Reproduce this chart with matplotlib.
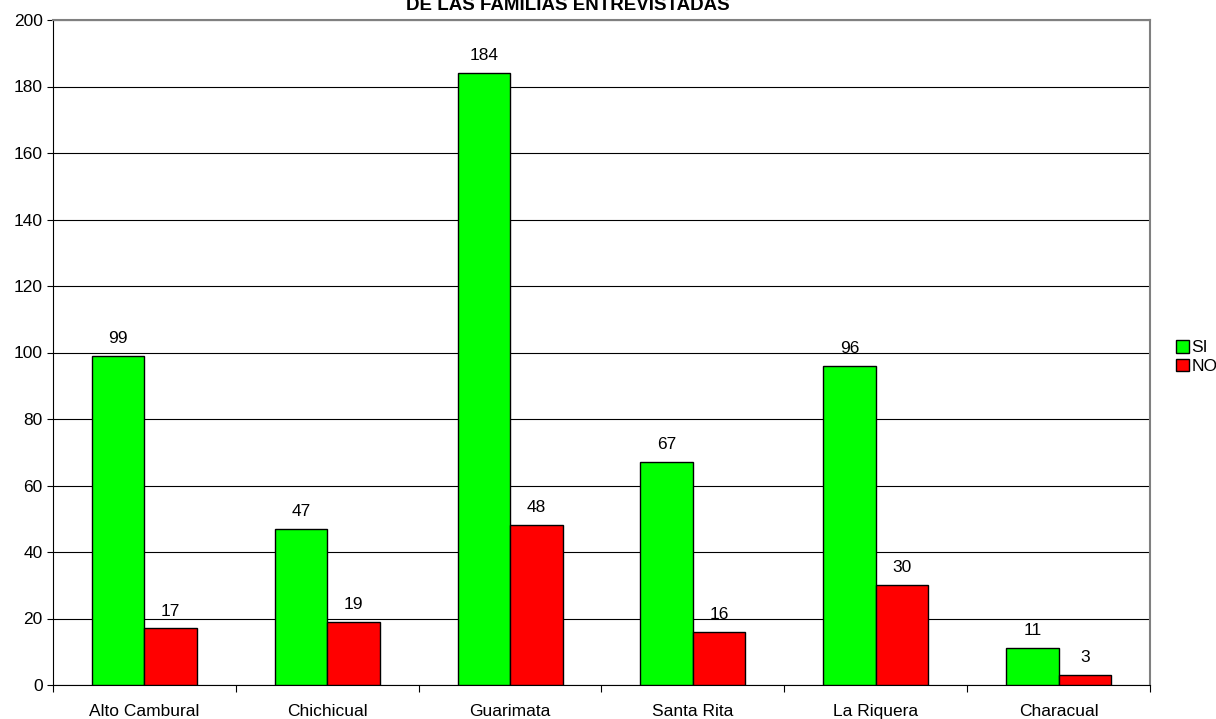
import matplotlib.pyplot as plt
import numpy as np
from matplotlib.patches import Patch

plt.rcParams['font.family'] = ['Liberation Sans', 'DejaVu Sans']

categories = ['Alto Cambural', 'Chichicual', 'Guarimata', 'Santa Rita', 'La Riquera', 'Characual']
si_vals = [99, 47, 184, 67, 96, 11]
no_vals = [17, 19, 48, 16, 30, 3]

fig = plt.figure(figsize=(12.16, 7.19), dpi=100)
W, H = 1216, 719
ax = fig.add_axes([53 / W, 1 - 685 / H, (1150 - 53) / W, (685 - 20) / H])

x = np.arange(len(categories))
bw = 0.287
b1 = ax.bar(x - bw / 2, si_vals, bw, color='#00FF00', edgecolor='black', linewidth=1, zorder=3)
b2 = ax.bar(x + bw / 2, no_vals, bw, color='#FF0000', edgecolor='black', linewidth=1, zorder=3)

for bars, vals in ((b1, si_vals), (b2, no_vals)):
    for b, v in zip(bars, vals):
        ax.text(b.get_x() + b.get_width() / 2, v + 3.0, str(v), ha='center', va='bottom', fontsize=12.5)

ax.set_xlim(-0.5, len(categories) - 0.5)
ax.set_ylim(0, 200)
ax.set_yticks(range(0, 201, 20))
ax.tick_params(axis='y', labelsize=12.5, length=4, direction='out')
ax.set_xticks(np.arange(-0.5, len(categories), 1))
ax.set_xticklabels([])
ax.set_xticks(x, minor=True)
ax.set_xticklabels(categories, minor=True, fontsize=12.5)
ax.tick_params(axis='x', which='major', length=5)
ax.tick_params(axis='x', which='minor', length=0, pad=14)
ax.yaxis.grid(True, color='black', linewidth=0.8, zorder=0)
ax.set_axisbelow(True)

for s in ('top', 'right'):
    ax.spines[s].set_color('#808080')
    ax.spines[s].set_linewidth(1.5)

# titulo cortado arriba, como en la imagen original
fig.text(568 / W, 1 - 10 / H, 'DE LAS FAMILIAS ENTREVISTADAS', ha='center', va='baseline',
         fontsize=13.5, fontweight='bold')

handles = [Patch(facecolor='#00FF00', edgecolor='black', label='SI'),
           Patch(facecolor='#FF0000', edgecolor='black', label='NO')]
fig.legend(handles=handles, loc='center left', bbox_to_anchor=(1176 / W, 1 - 357 / H),
           frameon=False, fontsize=12.5, handlelength=0.75, handleheight=0.75,
           handletextpad=0.15, labelspacing=0.2, borderpad=0, borderaxespad=0)

fig.savefig('out.png', dpi=100)
